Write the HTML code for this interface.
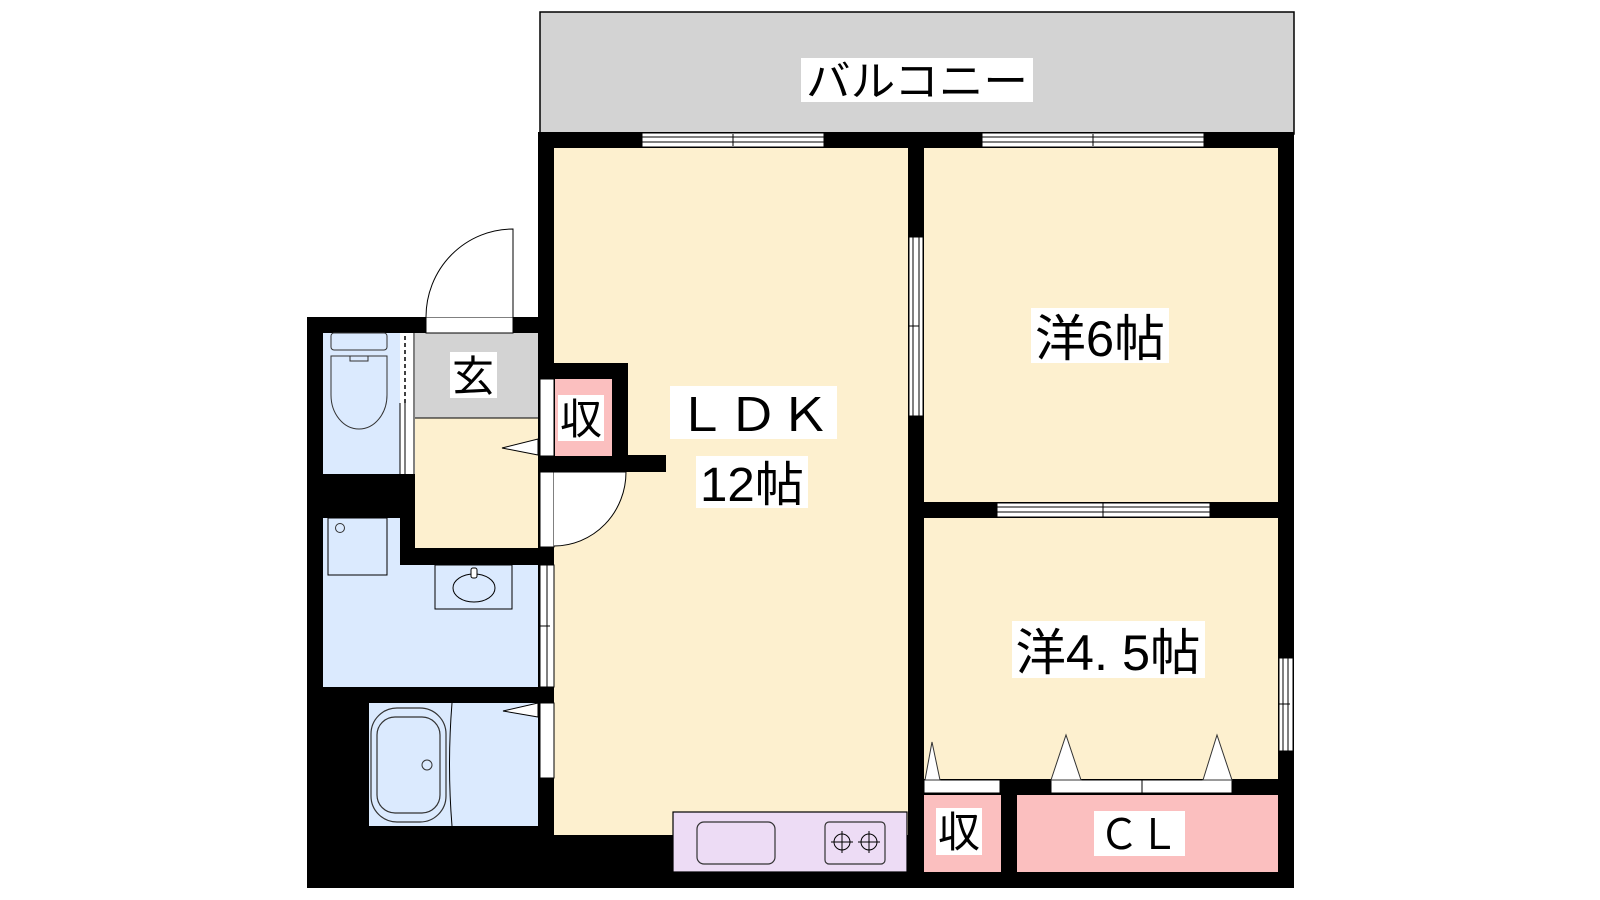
<!DOCTYPE html>
<html><head><meta charset="utf-8"><style>
html,body{margin:0;padding:0;background:#fff;width:1600px;height:900px;overflow:hidden}
svg{display:block}
text{font-family:"Liberation Sans","Noto Sans CJK JP",sans-serif;fill:#000}
</style></head><body>
<svg width="1600" height="900" viewBox="0 0 1600 900" xmlns="http://www.w3.org/2000/svg">
<!-- balcony -->
<rect x="540" y="12" width="754" height="122" fill="#d3d3d3" stroke="#000" stroke-width="1.5"/>
<rect x="801" y="58" width="232" height="44" fill="#fff"/>
<text x="917" y="96" font-size="42" text-anchor="middle" textLength="222" lengthAdjust="spacingAndGlyphs">バルコニー</text>

<!-- building black footprint -->
<polygon points="307,317 538,317 538,132 1294,132 1294,888 307,888" fill="#000"/>

<!-- LDK -->
<rect x="554" y="148" width="354" height="687" fill="#fdf0cf"/>
<!-- closet protrusion (black) -->
<rect x="538" y="363" width="90" height="109" fill="#000"/>
<rect x="538" y="455" width="128" height="17" fill="#000"/>
<rect x="555" y="379" width="57" height="77" fill="#fbbfbf"/>
<rect x="540" y="379" width="14" height="77" fill="#fff" stroke="#000" stroke-width="1"/>
<!-- LDK door -->
<rect x="540" y="472" width="14" height="75" fill="#fff" stroke="#000" stroke-width="1"/>
<path d="M554,472 L626,472 A72,74 0 0 1 554,546" fill="#fff" stroke="#000" stroke-width="1"/>

<!-- kitchen -->
<rect x="673" y="812" width="234" height="60" fill="#eddcf5" stroke="#000" stroke-width="1.2"/>
<rect x="697" y="822" width="78" height="42" rx="7" fill="none" stroke="#333" stroke-width="1.2"/>
<rect x="825" y="822" width="60" height="42" rx="4" fill="none" stroke="#333" stroke-width="1.2"/>
<circle cx="842" cy="842" r="8" fill="none" stroke="#000"/><circle cx="869" cy="842" r="8" fill="none" stroke="#000"/>
<path d="M831,842h22M842,831v22M858,842h22M869,831v22" stroke="#000" stroke-width="1"/>

<!-- entry -->
<rect x="415" y="333" width="123" height="85" fill="#d3d3d3"/>
<rect x="415" y="418" width="123" height="130" fill="#fdf0cf"/>
<line x1="415" y1="418" x2="538" y2="418" stroke="#000" stroke-width="1"/>
<polygon points="502,448 538,439 538,455" fill="#fff" stroke="#000" stroke-width="1"/>
<!-- entry door -->
<rect x="426" y="317" width="87" height="16" fill="#fff" stroke="#000" stroke-width="1"/>
<path d="M426,317 A87,88 0 0 1 513,229 L513,317" fill="#fff" stroke="#000" stroke-width="1"/>

<!-- toilet -->
<rect x="323" y="333" width="77" height="141" fill="#dbeafe"/>
<rect x="400" y="333" width="15" height="141" fill="#fff"/>
<line x1="405" y1="336" x2="405" y2="403" stroke="#000" stroke-width="1.5" stroke-dasharray="4,3"/>
<line x1="400" y1="403" x2="400" y2="474" stroke="#000"/><line x1="405" y1="403" x2="405" y2="474" stroke="#000"/><line x1="414" y1="333" x2="414" y2="474" stroke="#000"/>
<rect x="331" y="333" width="56" height="17" rx="3" fill="none" stroke="#333"/>
<path d="M331,356 H387 V395 A28,34 0 0 1 331,395 Z" fill="none" stroke="#333"/>
<path d="M350,356 v5 h18 v-5" fill="none" stroke="#333"/>

<!-- washroom -->
<path d="M323,518 H400 V565 H538 V687 H323 Z" fill="#dbeafe"/>
<rect x="328" y="518" width="59" height="57" fill="none" stroke="#000"/>
<circle cx="340" cy="528" r="4.5" fill="none" stroke="#333"/>
<rect x="435" y="565" width="77" height="44" fill="none" stroke="#000"/>
<ellipse cx="474" cy="588" rx="21" ry="14" fill="none" stroke="#000"/>
<rect x="471" y="568" width="6" height="10" rx="2" fill="#fff" stroke="#000"/>
<rect x="540" y="565" width="14" height="122" fill="#fff" stroke="#000" stroke-width="1"/>
<line x1="547" y1="565" x2="547" y2="687" stroke="#000"/>
<line x1="540" y1="626" x2="550" y2="626" stroke="#000"/>

<!-- bath -->
<rect x="369" y="703" width="169" height="123" fill="#dbeafe"/>
<rect x="371" y="708" width="75" height="114" rx="26" fill="none" stroke="#333" stroke-width="1.2"/>
<rect x="377" y="717" width="63" height="96" rx="18" fill="none" stroke="#333" stroke-width="1.2"/>
<circle cx="427" cy="765" r="5" fill="none" stroke="#333"/>
<path d="M452,703 Q447,765 452,826" fill="none" stroke="#000"/>
<polygon points="503,711 538,703 538,717" fill="#fff" stroke="#000" stroke-width="1"/>
<rect x="540" y="703" width="14" height="75" fill="#fff" stroke="#000" stroke-width="1"/>

<!-- top windows -->
<g fill="#fff" stroke="#000" stroke-width="1">
<rect x="642" y="133" width="182" height="14"/><rect x="982" y="133" width="222" height="14"/>
</g>
<path d="M642,137H824M642,142H824M733,134V146M982,137H1204M982,142H1204M1093,134V146" stroke="#000" stroke-width="1"/>

<!-- rooms -->
<rect x="924" y="148" width="354" height="354" fill="#fdf0cf"/>
<rect x="924" y="518" width="354" height="261" fill="#fdf0cf"/>
<!-- interior wall opening -->
<rect x="909" y="237" width="14" height="179" fill="#fff" stroke="#000" stroke-width="1"/>
<path d="M913,237V416M919,237V416M909,326H919" stroke="#000"/>
<!-- 6/4.5 window -->
<rect x="997" y="503" width="213" height="14" fill="#fff" stroke="#000" stroke-width="1"/>
<path d="M997,507H1210M997,512H1210M1103,503V517" stroke="#000"/>
<!-- right window -->
<rect x="1279" y="658" width="14" height="93" fill="#fff" stroke="#000" stroke-width="1"/>
<path d="M1283,658V751M1288,658V751M1279,704H1290" stroke="#000"/>

<!-- closets -->
<rect x="924" y="795" width="77" height="77" fill="#fbbfbf"/>
<rect x="1017" y="795" width="261" height="77" fill="#fbbfbf"/>
<rect x="924" y="780" width="76" height="13" fill="#fff" stroke="#000"/>
<rect x="1051" y="780" width="181" height="13" fill="#fff" stroke="#000"/>
<line x1="1142" y1="780" x2="1142" y2="793" stroke="#000"/>
<g fill="#fff" stroke="#333" stroke-width="1">
<polygon points="925,780 932,742 940,780"/>
<polygon points="1051,780 1066,735 1081,780"/>
<polygon points="1203,780 1217,735 1232,780"/>
</g>

<!-- labels -->
<rect x="450" y="352" width="47" height="46" fill="#fff"/>
<text x="473" y="391" font-size="42" text-anchor="middle">玄</text>
<rect x="558" y="395" width="46" height="46" fill="#fff"/>
<text x="581" y="434" font-size="42" text-anchor="middle">収</text>
<rect x="670" y="386" width="167" height="53" fill="#fff"/>
<text x="753" y="431" font-size="46" text-anchor="middle" textLength="155" lengthAdjust="spacingAndGlyphs">ＬＤＫ</text>
<rect x="696" y="456" width="112" height="52" fill="#fff"/>
<text x="752" y="501" font-size="48" text-anchor="middle" textLength="104" lengthAdjust="spacingAndGlyphs">12帖</text>
<rect x="1031" y="308" width="138" height="55" fill="#fff"/>
<text x="1100" y="356" font-size="50" text-anchor="middle" textLength="130" lengthAdjust="spacingAndGlyphs">洋6帖</text>
<rect x="1012" y="621" width="193" height="57" fill="#fff"/>
<text x="1108" y="670" font-size="50" text-anchor="middle" textLength="185" lengthAdjust="spacingAndGlyphs">洋4. 5帖</text>
<rect x="936" y="808" width="46" height="47" fill="#fff"/>
<text x="959" y="847" font-size="42" text-anchor="middle">収</text>
<rect x="1094" y="811" width="91" height="45" fill="#fff"/>
<text x="1139" y="849" font-size="42" text-anchor="middle" textLength="80" lengthAdjust="spacingAndGlyphs">ＣＬ</text>
</svg>
</body></html>
